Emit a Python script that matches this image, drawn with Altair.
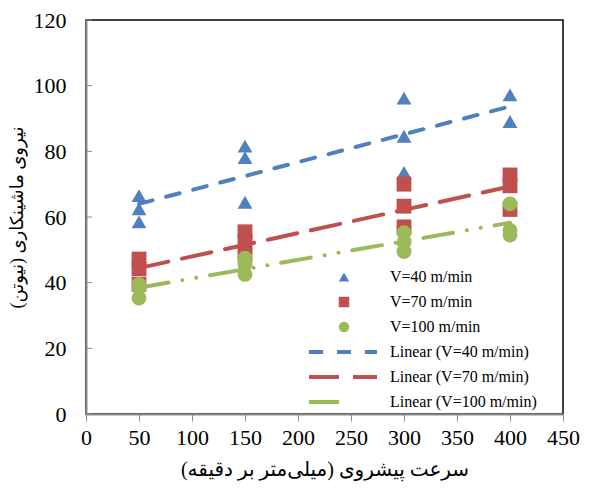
import altair as alt
import pandas as pd

# ---- data ----
feed_rates = [50, 150, 300, 400]
series_names = ["V=40 m/min", "V=70 m/min", "V=100 m/min"]
fit_names = ["Linear (V=40 m/min)", "Linear (V=70 m/min)", "Linear (V=100 m/min)"]

force_v40 = [[66.5, 62.5, 58.5], [81.6, 78.1, 64.5], [96.2, 84.6, 73.6], [97.2, 89.1]]
force_v70 = [[47.2, 44.2, 39.5], [55.5, 52.5, 48.5], [70.0, 63.3, 57.0], [72.8, 69.5, 62.3]]
force_v100 = [[39.5, 38.5, 35.3], [47.5, 45.5, 42.5], [55.2, 52.3, 49.5], [64.0, 56.0, 54.5]]

x_ticks = [0, 50, 100, 150, 200, 250, 300, 350, 400, 450]
y_ticks = [0, 20, 40, 60, 80, 100, 120]

colors = ["#4F81BD", "#C0504D", "#9BBB59"]
shapes = ["triangle-up", "square", "circle"]
dashes = [[14, 14], [30, 14], [30, 14, 0.1, 14, 0.1, 14]]

x_title = "سرعت پیشروی (میلی\u200cمتر بر دقیقه)\u200f"
y_title = "نیروی ماشینکاری (نیوتن)\u200f"

rows = []
for name, series in zip(series_names, [force_v40, force_v70, force_v100]):
    for xv, vals in zip(feed_rates, series):
        for v in vals:
            rows.append({"feed": xv, "force": v, "series": name})
df = pd.DataFrame(rows)
tick_df = pd.DataFrame({"t": y_ticks})

FONT = "Liberation Serif"
AFONT = "Liberation Serif, DejaVu Sans, serif"

x_enc = alt.X("feed:Q", scale=alt.Scale(domain=[0, 450], nice=False),
              axis=alt.Axis(values=x_ticks, title=x_title, grid=False, tickSize=7,
                            tickColor="#8c8c8c", domainColor="#8c8c8c", domainWidth=2,
                            labelFlush=False, labelPadding=6, titlePadding=11,
                            titleFontSize=20))
y_enc = alt.Y("force:Q", scale=alt.Scale(domain=[0, 120], nice=False),
              axis=alt.Axis(values=y_ticks, title=y_title, grid=False, ticks=False,
                            domainColor="#8c8c8c", domainWidth=2, labelFlush=False,
                            labelPadding=20, titlePadding=7, titleFontSize=18))

leg_pts = alt.Legend(orient="none", legendX=250, legendY=249, title=None,
                     symbolSize=110, labelOffset=38, rowPadding=9, padding=0,
                     labelFont=FONT, labelFontSize=16, labelColor="black",
                     symbolStrokeWidth=0)
points = alt.Chart(df).mark_point(filled=True, size=220, opacity=1).encode(
    x=x_enc,
    y=y_enc,
    color=alt.Color("series:N", scale=alt.Scale(domain=series_names, range=colors), legend=leg_pts),
    shape=alt.Shape("series:N", scale=alt.Scale(domain=series_names, range=shapes), legend=leg_pts),
)

leg_lines = alt.Legend(orient="none", legendX=249, legendY=324, title=None,
                       symbolSize=100, symbolType="M-6.8,0H6.8", symbolStrokeWidth=4,
                       labelOffset=39, rowPadding=9, padding=0,
                       labelFont=FONT, labelFontSize=16, labelColor="black")
lines = alt.Chart(df).transform_regression(
    "feed", "force", groupby=["series"]
).transform_calculate(
    fit='"Linear (" + datum.series + ")"'
).mark_line(strokeWidth=4, strokeCap="round").encode(
    x="feed:Q",
    y="force:Q",
    color=alt.Color("fit:N", scale=alt.Scale(domain=fit_names, range=colors), legend=leg_lines),
    strokeDash=alt.StrokeDash("fit:N", scale=alt.Scale(domain=fit_names, range=dashes), legend=leg_lines),
)

yticks = alt.Chart(tick_df).mark_rule(color="#8c8c8c", strokeWidth=1).encode(
    y=alt.Y("t:Q"),
    x=alt.value(0),
    x2=alt.value(6),
)

chart = alt.layer(points, lines, yticks).resolve_scale(
    color="independent", shape="independent", strokeDash="independent"
).properties(
    width=477, height=394,
    autosize=alt.AutoSizeParams(type="none"),
    padding={"left": 78, "top": 12, "right": 18, "bottom": 70},
).configure_view(
    stroke="black", strokeWidth=1.5
).configure_axis(
    labelFont=FONT, labelFontSize=22, labelColor="black",
    titleFont=AFONT, titleFontWeight="normal", titleColor="black",
)

chart.save("out.html", embed_options={"renderer": "svg", "actions": False})
